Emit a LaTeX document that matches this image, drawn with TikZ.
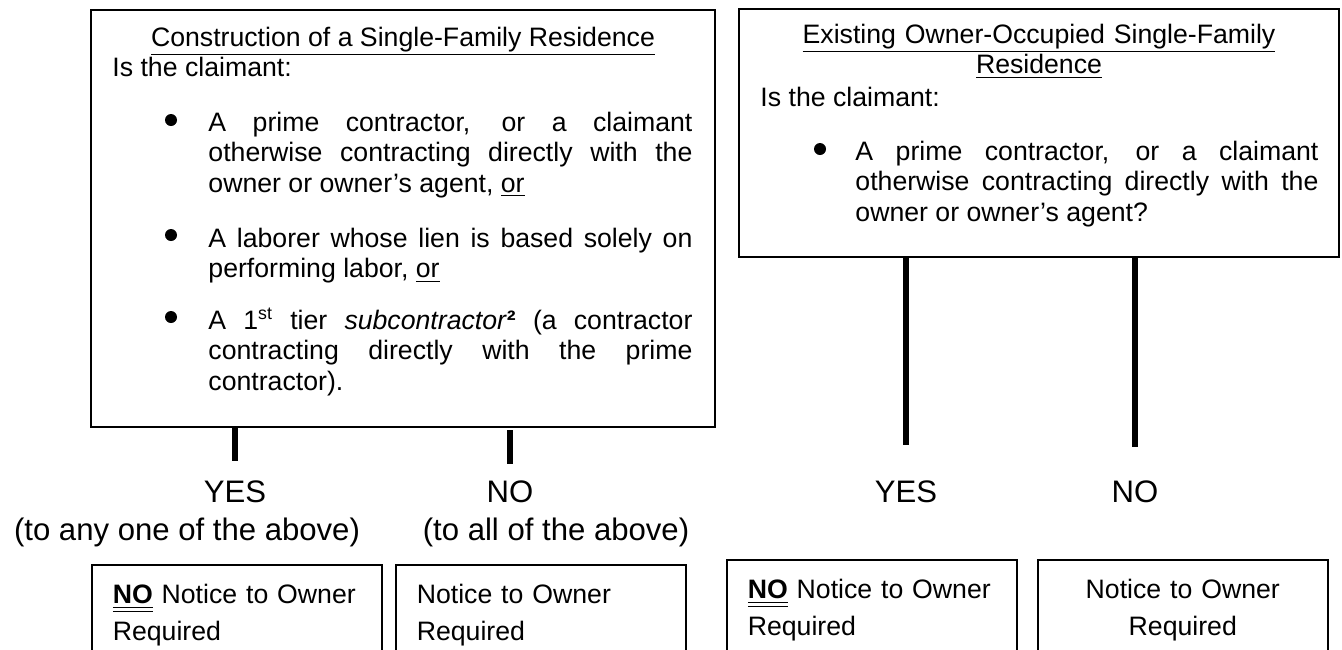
\documentclass[tikz,border=0pt]{standalone}
\usepackage{fontspec}
\setmainfont{Liberation Sans}
\usepackage{tikz}
\usetikzlibrary{positioning,fit}
\hyphenpenalty=10000
\exhyphenpenalty=10000
\newcommand{\dblul}[1]{\underline{\underline{#1}}}
\tikzset{
  basebox/.style={draw,inner sep=0pt},
  qbox/.style={basebox,line width=0.9pt},
  ansbox/.style={basebox,line width=0.7pt,anchor=north west,
                 inner xsep=9.45pt,inner ysep=0pt,text width=111.6pt,
                 text height=17.55pt,text depth=30pt},
  txt/.style={inner sep=0pt,anchor=base west},
  para/.style={txt,align=justify},
  dot/.style={circle,fill=black,inner sep=0pt,minimum size=5.4pt},
  ans/.style={inner sep=0pt,anchor=base,font=\fontsize{14}{16}\selectfont},
  link/.style={line width=2.9pt}
}

\begin{document}
\begin{tikzpicture}[x=0.45pt,y=-0.45pt,font=\fontsize{12}{13.8}\selectfont]
  \useasboundingbox (0,0) rectangle (1342,649);
  \clip (0,0) rectangle (1342,649);

  \node[qbox,fit={(91,10) (715,427)}] (constr) {};
  \node[txt,anchor=base] (hdrA) at (403,46) {\underline{Construction of a Single-Family Residence}};
  \node[txt] (askA) at (112,76) {Is the claimant:};
  \node[dot] (dotA1) at (171,120) {};
  \node[para,text width=217.8pt] (bulA1) at (208,131)
    {A prime contractor, or a claimant otherwise contracting directly with the owner or owner’s agent, \underline{or}};
  \node[dot] (dotA2) at (171,235) {};
  \node[para,text width=217.8pt] (bulA2) at (208,247)
    {A laborer whose lien is based solely on performing labor, \underline{or}};
  \node[dot] (dotA3) at (171,317) {};
  \node[para,text width=217.8pt] (bulA3) at (208,329)
    {A 1\textsuperscript{st} tier \textit{subcontractor}\textbf{²} (a contractor contracting directly with the prime contractor).};

  \node[qbox,fit={(739,9) (1339,257)}] (exist) {};
  \node[txt,anchor=base,text width=270pt,align=center] (hdrB) at (1039,43)
    {\underline{Existing Owner-Occupied Single-Family}\\\underline{Residence}};
  \node[txt] (askB) at (760,106) {Is the claimant:};
  \node[dot] (dotB) at (820,149) {};
  \node[para,text width=208.35pt] (bulB) at (855,160)
    {A prime contractor, or a claimant otherwise contracting directly with the owner or owner’s agent?};

  \node[ans] (yesA) at (235,502) {YES};
  \node[ans] (condA) at (187,540) {(to any one of the above)};
  \node[ans] (noA) at (510,502) {NO};
  \node[ans] (condB) at (556,540) {(to all of the above)};
  \node[ans] (yesB) at (906,502) {YES};
  \node[ans] (noB) at (1135,502) {NO};

  \draw[link,shorten >=8.5pt] (constr.south -| yesA) -- (yesA.north);
  \draw[link,shorten <=1pt,shorten >=7.2pt] (constr.south -| noA) -- (noA.north);
  \draw[link,shorten >=15.5pt] (exist.south -| yesB) -- (yesB.north);
  \draw[link,shorten >=14.8pt] (exist.south -| noB) -- (noB.north);

  \node[ansbox,align=left] (ansA1) at (91,564)
    {\dblul{\textbf{NO}} Notice to Owner\\[2.8pt]Required};
  \node[ansbox,align=left] (ansA2) at (395,564)
    {Notice to Owner\\[2.8pt]Required};
  \node[ansbox,align=left] (ansB1) at (726,559)
    {\dblul{\textbf{NO}} Notice to Owner\\[2.8pt]Required};
  \node[ansbox,align=center] (ansB2) at (1037,559)
    {Notice to Owner\\[2.8pt]Required};
\end{tikzpicture}
\end{document}
